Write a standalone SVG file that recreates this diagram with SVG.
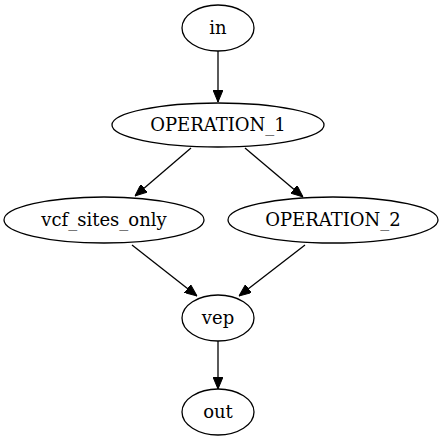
<svg xmlns="http://www.w3.org/2000/svg" width="443" height="443" viewBox="0 0 443 443">
<style>
.n ellipse{fill:none;stroke:#000;stroke-width:1.3}
.n text{font-family:"DejaVu Serif",serif;font-size:18px;text-anchor:middle;fill:#000}
.e line{stroke:#000;stroke-width:1.3}
</style>
<defs>
<marker id="ah" viewBox="0 0 12 10" refX="12" refY="5" markerWidth="12" markerHeight="10" markerUnits="userSpaceOnUse" orient="auto">
<path d="M0,0 L12,5 L0,10 Z" fill="#000" stroke="#000"/>
</marker>
</defs>
<rect width="443" height="443" fill="#fff"/>
<g id="edges" class="e">
<line x1="218" y1="51" x2="218" y2="102" marker-end="url(#ah)"/>
<line x1="191" y1="148" x2="135" y2="196" marker-end="url(#ah)"/>
<line x1="245" y1="148" x2="303" y2="197" marker-end="url(#ah)"/>
<line x1="132" y1="245" x2="197" y2="296" marker-end="url(#ah)"/>
<line x1="305" y1="245" x2="239" y2="296" marker-end="url(#ah)"/>
<line x1="218" y1="341" x2="218" y2="389" marker-end="url(#ah)"/>
</g>
<g id="in" class="n"><ellipse cx="218" cy="28" rx="36" ry="23"/><text x="218" y="34">in</text></g>
<g id="OPERATION_1" class="n"><ellipse cx="218" cy="125" rx="106" ry="22"/><text x="218" y="131">OPERATION_1</text></g>
<g id="vcf_sites_only" class="n"><ellipse cx="104" cy="220" rx="100" ry="23"/><text x="104" y="226">vcf_sites_only</text></g>
<g id="OPERATION_2" class="n"><ellipse cx="333" cy="220" rx="105" ry="23"/><text x="333" y="226">OPERATION_2</text></g>
<g id="vep" class="n"><ellipse cx="218" cy="318" rx="36" ry="23"/><text x="218" y="324">vep</text></g>
<g id="out" class="n"><ellipse cx="218" cy="412" rx="36" ry="23"/><text x="218" y="418">out</text></g>
</svg>
